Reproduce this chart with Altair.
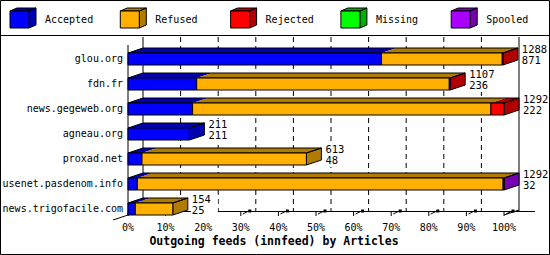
import altair as alt
import pandas as pd

# ---------------- data ----------------
hosts = ["glou.org", "fdn.fr", "news.gegeweb.org", "agneau.org", "proxad.net",
         "usenet.pasdenom.info", "news.trigofacile.com"]
accepted = [871, 236, 222, 211, 48, 32, 25]
refused = [415, 868, 1025, 0, 565, 1257, 129]
rejected = [2, 3, 45, 0, 0, 2, 0]
missing = [0, 0, 0, 0, 0, 0, 0]
spooled = [0, 0, 0, 0, 0, 1, 0]
series = ["Accepted", "Refused", "Rejected", "Missing", "Spooled"]
colors = ["#0000FF", "#FFB000", "#FF0000", "#00FF00", "#AA00FF"]
shades = ["#0000B0", "#B07B00", "#B00000", "#00B000", "#7600B2"]
tick_values = [0, 10, 20, 30, 40, 50, 60, 70, 80, 90, 100]
tick_labels = ["0%", "10%", "20%", "30%", "40%", "50%", "60%", "70%", "80%", "90%", "100%"]
title = "Outgoing feeds (innfeed) by Articles"

# ---------------- geometry (styles) ----------------
FONT = "DejaVu Sans Mono"
X_RANGE = [128, 504]
Y_RANGE = [59, 209]
XPP = (X_RANGE[1] - X_RANGE[0]) / 100.0
YPP = (Y_RANGE[1] - Y_RANGE[0]) / (len(hosts) - 1)
DX, DY, HALF = 15, 5, 6


def ux(px):
    return px / XPP


def uy(py):
    return py / YPP


def ax(px):  # absolute pixel -> x units
    return (px - X_RANGE[0]) / XPP


def ay(py):
    return (py - Y_RANGE[0]) / YPP


xs = alt.Scale(domain=[0, 100], range=X_RANGE, nice=False, zero=False)
ys = alt.Scale(domain=[0, len(hosts) - 1], range=Y_RANGE, nice=False, zero=False)
X = lambda f: alt.X(f, type="quantitative", scale=xs, axis=None)
X2 = lambda f: alt.X2(f)
Y = lambda f: alt.Y(f, type="quantitative", scale=ys, axis=None)

series_vals = [accepted, refused, rejected, missing, spooled]
totals = [sum(s[i] for s in series_vals) for i in range(len(hosts))]
maxtot = max(totals)

front, fills, outlines = [], [], []


def add_poly(rows, key, pts, fill):
    for j, (x, y) in enumerate(pts + [pts[0]]):
        rows.append(dict(pid=key, ord=j, x=x, y=y, fill=fill))


for r, h in enumerate(hosts):
    cum = 0
    segs = []
    for k, vals in enumerate(series_vals):
        v = vals[r]
        if v > 0:
            segs.append((k, cum / maxtot * 100, (cum + v) / maxtot * 100))
            cum += v
    yt, yb = r - uy(HALF), r + uy(HALF)
    dx, dy = ux(DX), uy(DY)
    for n, (k, x0, x1) in enumerate(segs):
        front.append(dict(x=x0, x2=x1, y=yt, y2=yb, fill=colors[k]))
        add_poly(fills, f"b{r}s{n}", [(x0, yt), (x1, yt), (x1 + dx, yt - dy), (x0 + dx, yt - dy)], shades[k])
    xs0, xe, klast = segs[0][1], segs[-1][2], segs[-1][0]
    add_poly(outlines, f"b{r}top", [(xs0, yt), (xe, yt), (xe + dx, yt - dy), (xs0 + dx, yt - dy)], "none")
    side = [(xe, yt), (xe + dx, yt - dy), (xe + dx, yb - dy), (xe, yb)]
    add_poly(fills, f"b{r}side", side, shades[klast])
    add_poly(outlines, f"b{r}side", side, "none")

# legend cubes
leg_text = []
for i, name in enumerate(series):
    px0 = 10 + 110.3 * i
    x0, x1 = ax(px0), ax(px0 + 19)
    yt, yb = ay(11), ay(28)
    ldx, ldy = ux(7), uy(3)
    front.append(dict(x=x0, x2=x1, y=yt, y2=yb, fill=colors[i]))
    top = [(x0, yt), (x1, yt), (x1 + ldx, yt - ldy), (x0 + ldx, yt - ldy)]
    side = [(x1, yt), (x1 + ldx, yt - ldy), (x1 + ldx, yb - ldy), (x1, yb)]
    add_poly(fills, f"l{i}top", top, shades[i])
    add_poly(fills, f"l{i}side", side, shades[i])
    add_poly(outlines, f"l{i}top", top, "none")
    add_poly(outlines, f"l{i}side", side, "none")
    leg_text.append(dict(x=ax(px0 + 35), name=name))

df_front = pd.DataFrame(front)
df_fill = pd.DataFrame(fills)
df_out = pd.DataFrame(outlines)
df_hosts = pd.DataFrame(dict(host=hosts, row=list(range(len(hosts))),
                             total=[t / maxtot * 100 for t in totals],
                             tot_lbl=[str(t) for t in totals],
                             acc_lbl=[str(a) for a in accepted]))
df_ticks = pd.DataFrame(dict(t=tick_values, lbl=tick_labels))
df_grid = pd.DataFrame(dict(t=tick_values[1:-1]))
df_walls = pd.DataFrame(dict(t=[0, 100]))
df_leg = pd.DataFrame(leg_text)
one = pd.DataFrame(dict(a=[0], b=[100]))

layers = []
# frame & separator
layers.append(alt.Chart(one).mark_rect(fill="white", stroke="black", strokeWidth=1).encode(
    x=alt.value(0.5), x2=alt.value(549.5), y=alt.value(0.5), y2=alt.value(254.5)))
layers.append(alt.Chart(one).mark_rule(color="black", strokeWidth=1).encode(
    x=alt.value(0), x2=alt.value(550), y=alt.value(35.5)))
# back grid (dashed) and walls
layers.append(alt.Chart(df_grid).mark_rule(color="black", strokeWidth=1, strokeDash=[5, 4], xOffset=DX).encode(
    x=X("t"), y=alt.value(37), y2=alt.value(211)))
layers.append(alt.Chart(df_walls).mark_rule(color="black", strokeWidth=1, xOffset=DX).encode(
    x=X("t"), y=alt.value(37), y2=alt.value(211)))
# floor lines
layers.append(alt.Chart(one).mark_rule(color="black", strokeWidth=1, xOffset=DX, x2Offset=DX + 16).encode(
    x=X("a"), x2=X2("b"), y=alt.value(211.5)))
layers.append(alt.Chart(one).mark_rule(color="black", strokeWidth=1, xOffset=-15, x2Offset=DX).encode(
    x=X("a"), x2=X2("a"), y=alt.value(220), y2=alt.value(210)))
layers.append(alt.Chart(one).mark_rule(color="black", strokeWidth=1, x2Offset=DX).encode(
    x=X("b"), x2=X2("b"), y=alt.value(215), y2=alt.value(210)))
# front left axis
layers.append(alt.Chart(one).mark_rule(color="black", strokeWidth=1).encode(
    x=X("a"), y=alt.value(45), y2=alt.value(215)))
# ticks
layers.append(alt.Chart(df_ticks).mark_rule(color="black", strokeWidth=1).encode(
    x=X("t"), y=alt.value(212), y2=alt.value(216)))
layers.append(alt.Chart(df_ticks).mark_rule(color="black", strokeWidth=1, xOffset=2, x2Offset=8).encode(
    x=X("t"), x2=X2("t"), y=alt.value(214), y2=alt.value(211)))
layers.append(alt.Chart(df_ticks).mark_square(color="black", size=9, opacity=1, xOffset=9).encode(
    x=X("t"), y=alt.value(211)))
# white backgrounds behind value labels
layers.append(alt.Chart(df_hosts).mark_rect(fill="white", xOffset=DX + 3, x2Offset=DX + 30,
                                            yOffset=-15, y2Offset=8).encode(
    x=X("total"), x2=X2("total"), y=Y("row"), y2=alt.Y2("row")))
# bars
layers.append(alt.Chart(df_fill).mark_line(filled=True, strokeWidth=0).encode(
    x=X("x"), y=Y("y"), detail="pid:N", order="ord:Q", fill=alt.Fill("fill:N", scale=None)))
layers.append(alt.Chart(df_out).mark_line(color="black", strokeWidth=1).encode(
    x=X("x"), y=Y("y"), detail="pid:N", order="ord:Q"))
layers.append(alt.Chart(df_front).mark_rect(stroke="black", strokeWidth=1).encode(
    x=X("x"), x2=X2("x2"), y=Y("y"), y2=alt.Y2("y2"), fill=alt.Fill("fill:N", scale=None)))
# texts
layers.append(alt.Chart(df_hosts).mark_text(align="right", baseline="middle", font=FONT, fontSize=10, color="black").encode(
    x=alt.value(123), y=Y("row"), text="host:N"))
layers.append(alt.Chart(df_hosts).mark_text(align="left", baseline="middle", font=FONT, fontSize=10.5, color="black",
                                            dx=DX + 4, dy=-9).encode(
    x=X("total"), y=Y("row"), text="tot_lbl:N"))
layers.append(alt.Chart(df_hosts).mark_text(align="left", baseline="middle", font=FONT, fontSize=10.5, color="black",
                                            dx=DX + 4, dy=2).encode(
    x=X("total"), y=Y("row"), text="acc_lbl:N"))
layers.append(alt.Chart(df_ticks).mark_text(align="center", baseline="middle", font=FONT, fontSize=10, color="black").encode(
    x=X("t"), y=alt.value(228), text="lbl:N"))
layers.append(alt.Chart(df_leg).mark_text(align="left", baseline="middle", font=FONT, fontSize=10, color="black").encode(
    x=X("x"), y=alt.value(20), text="name:N"))
layers.append(alt.Chart(one).mark_text(align="center", baseline="middle", font=FONT, fontSize=11.5,
                                       fontWeight="bold", color="black", text=title).encode(
    x=alt.value(274), y=alt.value(242)))

chart = alt.layer(*layers).properties(
    width=550, height=255, padding=0, autosize="none", background="white"
).configure_view(stroke=None)

chart.save("out.html", embed_options={"renderer": "svg", "actions": False})
